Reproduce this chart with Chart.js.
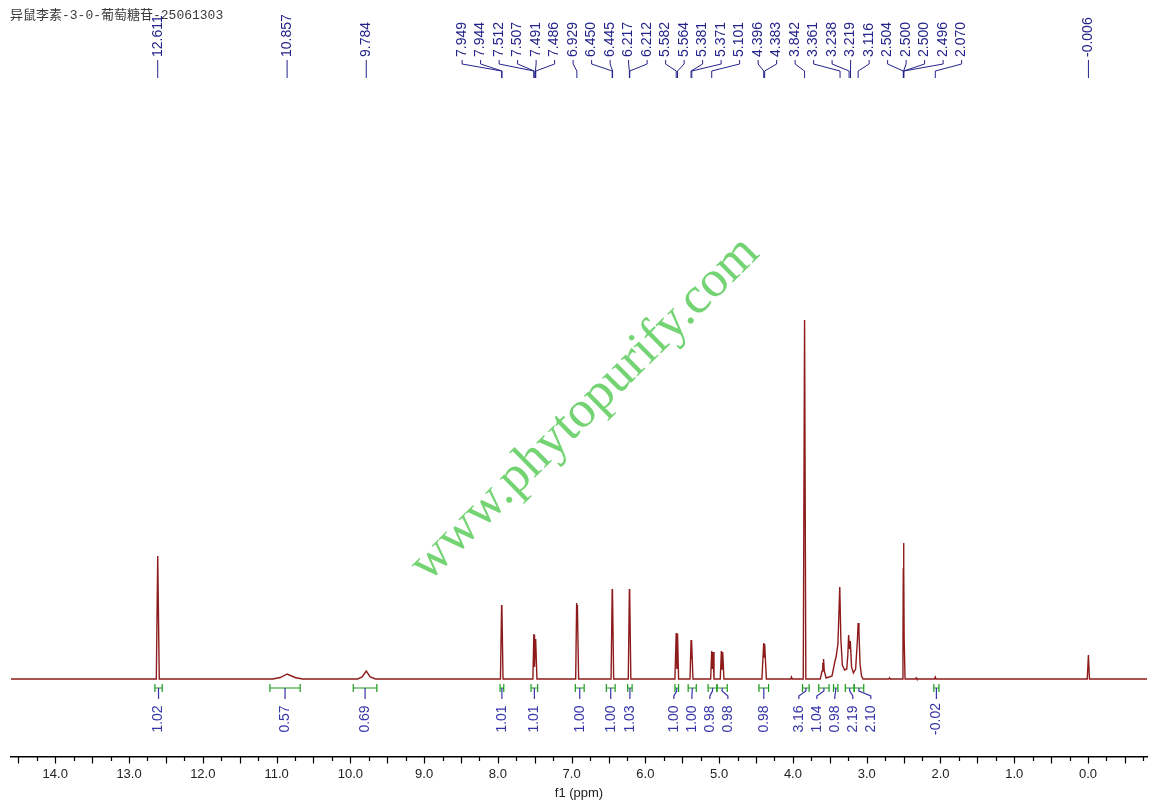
<!DOCTYPE html>
<html>
<head>
<meta charset="utf-8">
<script src="https://cdn.jsdelivr.net/npm/chart.js@4.4.1/dist/chart.umd.min.js"></script>
<style>
  html, body { margin: 0; padding: 0; background: #fff; }
  canvas { display: block; }
</style>
</head>
<body>
<canvas id="c" width="1157" height="805"></canvas>
<script>
// ---------------- DATA ----------------
const titleText = '异鼠李素-3-0-葡萄糖苷-25061303';
const axisTitle = 'f1 (ppm)';

// spectrum vertices (ppm, intensity)
const specPpm = [
  14.6, 12.63, 12.611, 12.59,
  11.05, 10.95, 10.857, 10.75, 10.65,
  9.90, 9.84, 9.784, 9.73, 9.66,
  7.965, 7.949, 7.9465, 7.944, 7.93,
  7.525, 7.512, 7.5095, 7.507, 7.499, 7.491, 7.4885, 7.486, 7.47,
  6.945, 6.932, 6.927, 6.922, 6.905,
  6.465, 6.450, 6.4475, 6.445, 6.43,
  6.232, 6.217, 6.2145, 6.212, 6.197,
  5.60, 5.582, 5.573, 5.564, 5.55,
  5.395, 5.381, 5.376, 5.371, 5.355,
  5.115, 5.101, 5.092, 5.083, 5.07,
  4.985, 4.970, 4.961, 4.952, 4.935,
  4.42, 4.396, 4.39, 4.383, 4.36,
  4.03, 4.02, 4.01,
  3.86, 3.842, 3.825,
  3.63, 3.605, 3.595, 3.59, 3.585, 3.575, 3.55,
  3.47, 3.43, 3.415, 3.39, 3.365, 3.35, 3.33, 3.30,
  3.27, 3.255, 3.245, 3.232, 3.222, 3.205, 3.18,
  3.15, 3.125, 3.116, 3.105, 3.09, 3.07, 3.05,
  2.70, 2.69, 2.68,
  2.52, 2.508, 2.504, 2.500, 2.496, 2.492, 2.48,
  2.34, 2.33, 2.32,
  2.08, 2.07, 2.06,
  0.01, -0.006, -0.02,
  -0.8
];
const specInt = [
  0, 0, 123, 0,
  0, 1.5, 5, 1.5, 0,
  0, 2, 8, 2, 0,
  0, 74, 60, 72, 0,
  0, 45, 38, 44, 12, 40, 34, 39, 0,
  0, 76, 55, 74, 0,
  0, 90, 70, 88, 0,
  0, 90, 70, 88, 0,
  0, 46, 10, 45, 0,
  0, 39, 20, 38, 0,
  0, 28, 10, 27, 0,
  0, 28, 10, 27, 0,
  0, 36, 22, 35, 0,
  0, 2, 0,
  0, 359, 0,
  0, 8, 16, 14, 20, 8, 1,
  3, 18, 22, 35, 92, 40, 14, 9,
  10, 25, 44, 30, 38, 12, 6,
  10, 40, 56, 48, 15, 3, 0,
  0, 1.2, 0,
  0, 40, 110, 136, 110, 40, 0,
  0, 1.2, 0,
  0, 2, 0,
  0, 24, 0,
  0
];

// peak-pick labels (ppm)
const peakLabels = [12.611, 10.857, 9.784, 7.949, 7.944, 7.512, 7.507, 7.491, 7.486,
  6.929, 6.450, 6.445, 6.217, 6.212, 5.582, 5.564, 5.381, 5.371, 5.101,
  4.396, 4.383, 3.842, 3.361, 3.238, 3.219, 3.116, 2.504, 2.500, 2.500, 2.496, 2.070, -0.006];

// integration regions
const intFrom  = [12.65, 11.09, 9.96, 7.97, 7.55, 6.95, 6.53, 6.24, 5.60, 5.42, 5.15, 5.03, 4.46, 3.87, 3.65, 3.45, 3.29, 3.17, 2.09];
const intTo    = [12.55, 10.68, 9.64, 7.92, 7.46, 6.83, 6.41, 6.18, 5.55, 5.31, 5.03, 4.89, 4.33, 3.78, 3.51, 3.39, 3.17, 3.04, 2.02];
const intValue = [1.02, 0.57, 0.69, 1.01, 1.01, 1.00, 1.00, 1.03, 1.00, 1.00, 0.98, 0.98, 0.98, 3.16, 1.04, 0.98, 2.19, 2.10, -0.02];

const xMax = 14.6, xMin = -0.8, tickStep = 0.25;
const watermark = 'www.phytopurify.com';

// ---------------- HELPERS ----------------
function spread(desired, gap) {
  let cl = desired.map(d => ({ sum: d, n: 1 }));
  let changed = true;
  while (changed) {
    changed = false;
    for (let i = 0; i < cl.length - 1; i++) {
      const a = cl[i], b = cl[i + 1];
      const aEnd = a.sum / a.n + (a.n - 1) * gap / 2;
      const bStart = b.sum / b.n - (b.n - 1) * gap / 2;
      if (bStart - aEnd < gap - 1e-6) {
        cl.splice(i, 2, { sum: a.sum + b.sum, n: a.n + b.n });
        changed = true;
        break;
      }
    }
  }
  const out = [];
  cl.forEach(c => {
    const start = c.sum / c.n - (c.n - 1) * gap / 2;
    for (let k = 0; k < c.n; k++) out.push(start + k * gap);
  });
  return out;
}

const LABEL_FONT = '14px "Liberation Sans", Arial, sans-serif';
const NAVY = '#23238a';
const BLUE = '#3535a8';
const GREEN = '#1e9a1e';

const decorPlugin = {
  id: 'decor',
  beforeDatasetsDraw(chart) {
    const ctx = chart.ctx;
    ctx.save();
    ctx.translate(585, 409);
    ctx.rotate(-44.6 * Math.PI / 180);
    ctx.font = '52px "Liberation Serif", "Times New Roman", serif';
    ctx.fillStyle = '#74d474';
    ctx.textAlign = 'center';
    ctx.textBaseline = 'middle';
    ctx.fillText(watermark, 0, 0);
    ctx.restore();
  },
  afterDraw(chart) {
    const ctx = chart.ctx;
    const xs = chart.scales.x;
    const ys = chart.scales.y;
    const base = ys.getPixelForValue(0);
    const axisY = chart.chartArea.bottom;

    // title
    ctx.save();
    ctx.font = '13px "Liberation Mono", "Noto Sans CJK SC", monospace';
    ctx.fillStyle = '#3a3a3a';
    ctx.textBaseline = 'middle';
    ctx.textAlign = 'left';
    ctx.fillText(titleText, 10, 16);
    ctx.restore();

    // axis ticks (major at 0.5, minor at 0.25)
    ctx.save();
    ctx.strokeStyle = '#000';
    ctx.lineWidth = 1.2;
    xs.ticks.forEach(t => {
      const px = Math.round(xs.getPixelForValue(t.value)) + 0.5;
      const major = Math.abs(t.value * 2 - Math.round(t.value * 2)) < 1e-6;
      ctx.beginPath();
      ctx.moveTo(px, axisY);
      ctx.lineTo(px, axisY + (major ? 6.5 : 4));
      ctx.stroke();
    });
    ctx.restore();

    // peak labels at the top
    const pk = peakLabels.map(v => ({ v, px: xs.getPixelForValue(v) })).sort((a, b) => a.px - b.px);
    const lx = spread(pk.map(p => p.px), 18.5);
    ctx.save();
    ctx.strokeStyle = NAVY;
    ctx.fillStyle = NAVY;
    ctx.lineWidth = 1;
    ctx.font = LABEL_FONT;
    pk.forEach((p, i) => {
      const x = lx[i];
      ctx.beginPath();
      ctx.moveTo(x, 60);
      ctx.lineTo(x, 64);
      ctx.lineTo(p.px, 71);
      ctx.lineTo(p.px, 78);
      ctx.stroke();
      ctx.save();
      ctx.translate(x, 57);
      ctx.rotate(-Math.PI / 2);
      ctx.textAlign = 'left';
      ctx.textBaseline = 'middle';
      ctx.fillText(p.v.toFixed(3), 0, 0);
      ctx.restore();
    });
    ctx.restore();

    // integrals
    const ints = intFrom.map((f, i) => {
      const a = xs.getPixelForValue(f), b = xs.getPixelForValue(intTo[i]);
      return { a, b, c: (a + b) / 2, v: intValue[i] };
    }).sort((p, q) => p.c - q.c);
    const ix = spread(ints.map(p => p.c), 18);
    const by = base + 9;
    ctx.save();
    ints.forEach((p, i) => {
      ctx.strokeStyle = GREEN;
      ctx.lineWidth = 1.2;
      ctx.beginPath();
      ctx.moveTo(p.a, by); ctx.lineTo(p.b, by);
      ctx.moveTo(p.a, by - 4); ctx.lineTo(p.a, by + 4);
      ctx.moveTo(p.b, by - 4); ctx.lineTo(p.b, by + 4);
      ctx.stroke();
      const x = ix[i];
      ctx.strokeStyle = BLUE;
      ctx.lineWidth = 1.2;
      ctx.beginPath();
      ctx.moveTo(p.c, by);
      ctx.lineTo(p.c, by + 3);
      ctx.lineTo(x, by + 8);
      ctx.lineTo(x, by + 11);
      ctx.stroke();
      ctx.save();
      ctx.fillStyle = BLUE;
      ctx.font = LABEL_FONT;
      ctx.translate(x, 719);
      ctx.rotate(-Math.PI / 2);
      ctx.textAlign = 'center';
      ctx.textBaseline = 'middle';
      ctx.fillText(p.v.toFixed(2), 0, 0);
      ctx.restore();
    });
    ctx.restore();
  }
};

new Chart(document.getElementById('c'), {
  type: 'scatter',
  data: {
    datasets: [{
      data: specPpm.map((x, i) => ({ x, y: specInt[i] })),
      showLine: true,
      borderColor: '#8e1b1b',
      borderWidth: 1.4,
      pointRadius: 0,
      tension: 0,
      fill: false
    }]
  },
  options: {
    responsive: false,
    animation: false,
    layout: { padding: { left: 11, right: 10, top: 80, bottom: 0 } },
    plugins: { legend: { display: false }, tooltip: { enabled: false }, title: { display: false } },
    scales: {
      x: {
        type: 'linear',
        reverse: true,
        min: xMin,
        max: xMax,
        afterFit(s) { s.height = 48; },
        grid: { display: false, drawTicks: false },
        border: { display: true, color: '#000', width: 1.5 },
        ticks: {
          stepSize: tickStep,
          includeBounds: false,
          autoSkip: false,
          maxRotation: 0,
          minRotation: 0,
          padding: 10,
          color: '#222',
          font: { family: '"Liberation Sans", Arial, sans-serif', size: 13 },
          callback: v => Math.abs(v - Math.round(v)) < 1e-6 ? Math.round(v).toFixed(1) : ''
        },
        title: {
          display: true,
          text: axisTitle,
          color: '#222',
          font: { family: '"Liberation Sans", Arial, sans-serif', size: 13 },
          padding: { top: 0, bottom: 4 }
        }
      },
      y: { display: false, min: -78, max: 599 }
    }
  },
  plugins: [decorPlugin]
});
</script>
</body>
</html>
